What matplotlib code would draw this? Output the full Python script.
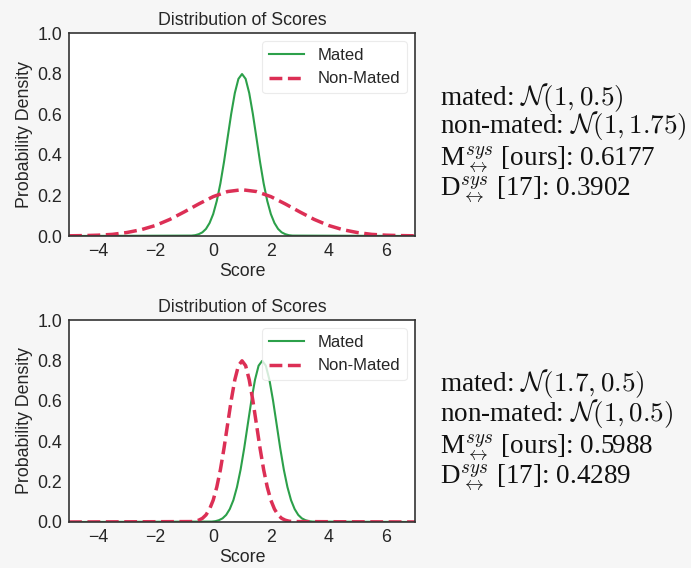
import matplotlib
matplotlib.use("Agg")
import matplotlib.pyplot as plt

plt.rcParams['font.family'] = ['Liberation Sans', 'DejaVu Sans']
plt.rcParams['mathtext.fontset'] = 'cm'

# top panel: values
top_mated_x = [-5, -0.75, -0.625, -0.5, -0.375, -0.25, -0.125, 0, 0.125, 0.25, 0.375, 0.5, 0.625, 0.75, 0.875,
               1, 1.125, 1.25, 1.375, 1.5, 1.625, 1.75, 1.875, 2, 2.125, 2.25, 2.375, 2.5, 2.625, 2.75, 7]
top_mated_y = [0, 0.002, 0.004, 0.009, 0.018, 0.035, 0.064, 0.108, 0.173, 0.259, 0.365, 0.484, 0.602, 0.704, 0.774,
               0.798, 0.774, 0.704, 0.602, 0.484, 0.365, 0.259, 0.173, 0.108, 0.064, 0.035, 0.018, 0.009, 0.004, 0.002, 0]

top_non_x = [-5, -4.5, -4, -3.5, -3, -2.5, -2, -1.5, -1, -0.5, 0, 0.5, 1, 1.5, 2, 2.5, 3, 3.5, 4, 4.5, 5, 5.5, 6, 6.5, 7]
top_non_y = [0.001, 0.002, 0.004, 0.008, 0.017, 0.031, 0.052, 0.082, 0.119, 0.158, 0.194, 0.219, 0.228,
             0.219, 0.194, 0.158, 0.119, 0.082, 0.052, 0.031, 0.017, 0.008, 0.004, 0.002, 0.001]

# bottom panel
bot_mated_x = [-5, -0.05, 0.075, 0.2, 0.325, 0.45, 0.575, 0.7, 0.825, 0.95, 1.075, 1.2, 1.325, 1.45, 1.575,
               1.7, 1.825, 1.95, 2.075, 2.2, 2.325, 2.45, 2.575, 2.7, 2.825, 2.95, 3.075, 3.2, 3.325, 3.45, 7]
bot_mated_y = [0, 0.002, 0.004, 0.009, 0.018, 0.035, 0.064, 0.108, 0.173, 0.259, 0.365, 0.484, 0.602, 0.704, 0.774,
               0.798, 0.774, 0.704, 0.602, 0.484, 0.365, 0.259, 0.173, 0.108, 0.064, 0.035, 0.018, 0.009, 0.004, 0.002, 0]

bot_non_x = [-5, -0.75, -0.625, -0.5, -0.375, -0.25, -0.125, 0, 0.125, 0.25, 0.375, 0.5, 0.625, 0.75, 0.875,
             1, 1.125, 1.25, 1.375, 1.5, 1.625, 1.75, 1.875, 2, 2.125, 2.25, 2.375, 2.5, 2.625, 2.75, 7]
bot_non_y = [0, 0.002, 0.004, 0.009, 0.018, 0.035, 0.064, 0.108, 0.173, 0.259, 0.365, 0.484, 0.602, 0.704, 0.774,
             0.798, 0.774, 0.704, 0.602, 0.484, 0.365, 0.259, 0.173, 0.108, 0.064, 0.035, 0.018, 0.009, 0.004, 0.002, 0]

top_text = [r'mated: $\mathcal{N}(1, 0.5)$',
            r'non-mated: $\mathcal{N}(1, 1.75)$',
            r'M$^{sys}_{\leftrightarrow}$ [ours]: 0.6177',
            r'D$^{sys}_{\leftrightarrow}$ [17]: 0.3902']
bot_text = [r'mated: $\mathcal{N}(1.7, 0.5)$',
            r'non-mated: $\mathcal{N}(1, 0.5)$',
            r'M$^{sys}_{\leftrightarrow}$ [ours]: 0.5988',
            r'D$^{sys}_{\leftrightarrow}$ [17]: 0.4289']

green = '#2ca04a'
red = '#dc2f55'
dark = '#262626'

fig = plt.figure(figsize=(6.91, 5.68), dpi=100, facecolor='#f6f6f6')
ax1 = fig.add_axes([0.0999, 0.5845, 0.5007, 0.3574])
ax2 = fig.add_axes([0.0999, 0.0810, 0.5007, 0.3556])

panels = [(ax1, top_mated_x, top_mated_y, top_non_x, top_non_y),
          (ax2, bot_mated_x, bot_mated_y, bot_non_x, bot_non_y)]

for ax, mx, my, nx, ny in panels:
    ax.set_facecolor('white')
    ax.plot(mx, my, color=green, lw=1.5, label='Mated')
    ax.plot(nx, ny, color=red, lw=2.5, ls='--', label='Non-Mated')
    ax.set_xlim(-5, 7)
    ax.set_ylim(0, 1.0)
    ax.set_xticks([-4, -2, 0, 2, 4, 6])
    ax.set_yticks([0.0, 0.2, 0.4, 0.6, 0.8, 1.0])
    ax.set_yticklabels(['0.0', '0.2', '0.4', '0.6', '0.8', '1.0'])
    ax.tick_params(length=0, labelsize=12.8, colors=dark, pad=5)
    for s in ax.spines.values():
        s.set_color('#333333')
        s.set_linewidth(1.2)
    ax.set_title('Distribution of Scores', fontsize=12.8, color=dark, pad=6)
    ax.set_xlabel('Score', fontsize=12.8, color=dark, labelpad=2)
    ax.set_ylabel('Probability Density', fontsize=12.8, color=dark, labelpad=3)
    leg = ax.legend(loc='upper right', fontsize=12, frameon=True, handlelength=2.1)
    leg.get_frame().set_edgecolor('#e6e6e6')
    leg.get_frame().set_linewidth(0.8)
    for t in leg.get_texts():
        t.set_color(dark)

top_base = [105, 133, 165, 195]
bot_base = [391, 421, 453, 483]
for lines, bases in [(top_text, top_base), (bot_text, bot_base)]:
    for s, yb in zip(lines, bases):
        fig.text(440 / 691, 1 - yb / 568, s, fontsize=19.5, family='Liberation Serif',
                 va='baseline', ha='left', color='#111111')

fig.savefig('out.png', dpi=100, facecolor=fig.get_facecolor())
